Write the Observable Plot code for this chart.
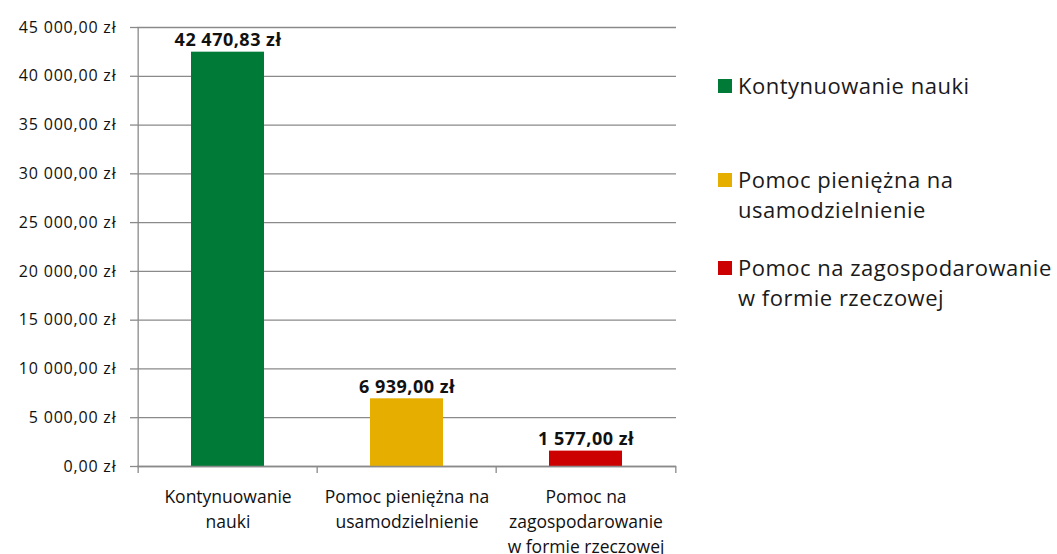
<!DOCTYPE html>
<html><head><meta charset="utf-8">
<script src="https://cdn.jsdelivr.net/npm/d3@7"></script>
<script src="https://cdn.jsdelivr.net/npm/@observablehq/plot@0.6"></script>
<style>
body{margin:0;background:#fff;font-family:"Open Sans",sans-serif;}
#wrap{position:relative;width:1057px;height:554px;overflow:hidden;}
#legend{position:absolute;left:718px;top:0;font-size:22px;letter-spacing:0.5px;color:#1a1a1a;}
.item{position:absolute;left:0;white-space:pre;line-height:30px;padding-left:20px;}
.sw{position:absolute;left:0;top:9px;width:14px;height:14px;}
g[aria-label="y-axis tick label"]{letter-spacing:0.8px;}
g[aria-label="text"]{letter-spacing:0.5px;}
</style></head>
<body><div id="wrap"><div id="chart"></div><div id="legend"></div></div>
<script>
const categories = ["Kontynuowanie nauki", "Pomoc pieniężna na usamodzielnienie", "Pomoc na zagospodarowanie w formie rzeczowej"];
const axisLabels = ["Kontynuowanie\nnauki", "Pomoc pieniężna na\nusamodzielnienie", "Pomoc na\nzagospodarowanie\nw formie rzeczowej"];
const legendLabels = ["Kontynuowanie nauki", "Pomoc pieniężna na\nusamodzielnienie", "Pomoc na zagospodarowanie\nw formie rzeczowej"];
const values = [42470.83, 6939.00, 1577.00];
const colors = ["#007A37", "#E6AF00", "#CC0000"];
const yTicks = [0, 5000, 10000, 15000, 20000, 25000, 30000, 35000, 40000, 45000];
const legendTops = [70, 164, 252];

const fmt = v => { const [i, d] = v.toFixed(2).split("."); return i.replace(/\B(?=(\d{3})+(?!\d))/g, " ") + "," + d + " zł"; };
const data = categories.map((c, i) => ({cat: c, value: values[i], color: colors[i]}));
const left = 137, right = 676;
const step = (right - left) / categories.length;
const grey = "#8a8a8a";

const chart = Plot.plot({
  width: 1057, height: 554,
  marginLeft: left, marginRight: 1057 - right, marginTop: 27, marginBottom: 88,
  style: {fontFamily: "'Open Sans', sans-serif", color: "#111", overflow: "visible"},
  x: {domain: categories, padding: 0, axis: null},
  y: {domain: [0, 45000], axis: null},
  marks: [
    Plot.gridY(yTicks, {stroke: grey, strokeOpacity: 1, strokeWidth: 1.3}),
    Plot.axisY(yTicks, {tickSize: 7, stroke: grey, strokeWidth: 1.3, tickPadding: 14, fontSize: 16, tickFormat: fmt, label: null}),
    Plot.barY(data, {x: "cat", y: "value", fill: "color", insetLeft: 53, insetRight: 53}),
    Plot.text(data, {x: "cat", y: "value", text: d => fmt(d.value), lineAnchor: "bottom", dy: -6, fontWeight: "bold", fontSize: 18, fill: "#111"}),
    Plot.ruleX([categories[0]], {dx: -step / 2, y1: 0, y2: 45000, stroke: grey, strokeWidth: 1.3}),
    Plot.ruleY([0], {stroke: grey, strokeWidth: 1.3}),
    Plot.ruleX(categories, {dx: -step / 2, y1: 0, y2: 0, insetBottom: -7, stroke: grey, strokeWidth: 1.3}),
    Plot.ruleX([categories[categories.length - 1]], {dx: step / 2, y1: 0, y2: 0, insetBottom: -7, stroke: grey, strokeWidth: 1.3}),
    Plot.axisX(categories, {tickSize: 0, tickPadding: 18, fontSize: 17.5, lineHeight: 1.45, tickFormat: d => axisLabels[categories.indexOf(d)], label: null, fill: "#111"})
  ]
});
document.getElementById("chart").append(chart);

const legend = document.getElementById("legend");
legendLabels.forEach((t, i) => {
  const it = document.createElement("div");
  it.className = "item";
  it.style.top = legendTops[i] + "px";
  const sw = document.createElement("div");
  sw.className = "sw";
  sw.style.background = colors[i];
  it.append(sw, document.createTextNode(t));
  legend.append(it);
});
</script>
</body></html>
